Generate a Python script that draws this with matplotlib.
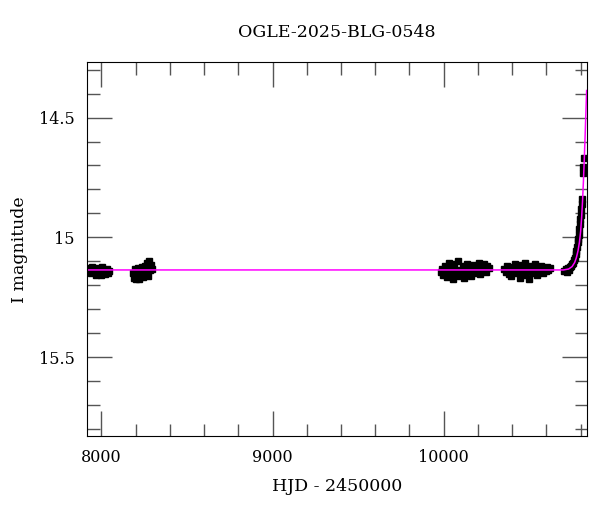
import numpy as np
import matplotlib
matplotlib.use("Agg")
from matplotlib import pyplot as plt
from matplotlib.ticker import MultipleLocator, FixedFormatter, FixedLocator

# photometry (HJD - 2450000, I mag)
t_season1 = [7922, 7928, 7933, 7938, 7944, 7950, 7955, 7960, 7966, 7972, 7977,
             7983, 7990, 7996, 8003, 8010, 8017, 8024, 8031, 8038, 8044]
m_season1 = [15.128, 15.142, 15.135, 15.150, 15.122, 15.138, 15.146, 15.131,
             15.155, 15.127, 15.140, 15.149, 15.133, 15.158, 15.125, 15.144,
             15.137, 15.152, 15.130, 15.147, 15.139]

t_season2 = [8186, 8191, 8196, 8201, 8206, 8211, 8216, 8221, 8226, 8231, 8236,
             8241, 8246, 8251, 8256, 8261, 8266, 8271, 8276, 8281, 8286, 8291, 8295]
m_season2 = [15.150, 15.168, 15.132, 15.172, 15.145, 15.160, 15.128, 15.175,
             15.140, 15.155, 15.122, 15.165, 15.135, 15.150, 15.118, 15.142,
             15.105, 15.160, 15.125, 15.100, 15.138, 15.115, 15.130]

t_season3 = [9982, 9990, 9998, 10006, 10014, 10022, 10030, 10038, 10046, 10054,
             10062, 10070, 10078, 10086, 10094, 10102, 10110, 10118, 10126, 10134,
             10142, 10150, 10158, 10166, 10174, 10182, 10190, 10198, 10206, 10214,
             10222, 10230, 10238, 10246, 10254, 10262]
m_season3 = [15.145, 15.130, 15.158, 15.118, 15.140, 15.165, 15.105, 15.150,
             15.128, 15.172, 15.112, 15.142, 15.160, 15.098, 15.135, 15.155,
             15.120, 15.168, 15.138, 15.110, 15.150, 15.125, 15.162, 15.132,
             15.115, 15.148, 15.128, 15.140, 15.108, 15.152, 15.122, 15.135,
             15.112, 15.145, 15.118, 15.128]

t_season4 = [10355, 10363, 10371, 10379, 10387, 10395, 10403, 10411, 10419, 10427,
             10435, 10443, 10451, 10459, 10467, 10475, 10483, 10491, 10499, 10507,
             10515, 10523, 10531, 10539, 10547, 10555, 10563, 10571, 10579, 10587,
             10595, 10603, 10611, 10619]
m_season4 = [15.130, 15.145, 15.118, 15.152, 15.135, 15.160, 15.125, 15.142,
             15.110, 15.150, 15.132, 15.168, 15.115, 15.140, 15.155, 15.108,
             15.145, 15.128, 15.175, 15.120, 15.138, 15.150, 15.112, 15.132,
             15.158, 15.125, 15.140, 15.118, 15.148, 15.130, 15.142, 15.122,
             15.136, 15.128]

t_rise = [10705, 10712, 10718, 10724, 10730, 10736, 10742, 10748, 10754, 10760,
          10765, 10770, 10775, 10779, 10783, 10786, 10789, 10792, 10795, 10798,
          10800, 10803, 10806, 10808, 10815, 10816, 10817]
m_rise = [15.140, 15.132, 15.145, 15.128, 15.135, 15.125, 15.118, 15.112,
          15.105, 15.095, 15.085, 15.070, 15.055, 15.040, 15.020, 15.005,
          14.990, 14.965, 14.945, 14.925, 14.905, 14.880, 14.860, 14.840,
          14.730, 14.705, 14.670]

# model curve
t_model = [7916, 10700, 10730, 10750, 10765, 10775, 10785, 10793, 10800,
           10806, 10811, 10816, 10821, 10826, 10831, 10835]
m_model = [15.136, 15.136, 15.132, 15.122, 15.105, 15.085, 15.055, 15.020,
           14.975, 14.915, 14.850, 14.770, 14.680, 14.580, 14.470, 14.387]

plt.rcParams['font.family'] = ['DejaVu Serif']

fig = plt.figure(figsize=(6, 5.12), dpi=100)
ax = fig.add_axes([0.145, 0.148, 0.833, 0.730])

t_all = t_season1 + t_season2 + t_season3 + t_season4 + t_rise
m_all = m_season1 + m_season2 + m_season3 + m_season4 + m_rise
ax.plot(t_all, m_all, ls='none', marker='s', ms=4, color='black', mec='black')
ax.plot(t_model, m_model, color='#ff00ff', lw=1.1)

ax.set_xlim(7916, 10836)
ax.set_ylim(15.83, 14.27)

ax.xaxis.set_major_locator(MultipleLocator(1000))
ax.xaxis.set_minor_locator(MultipleLocator(200))
ax.yaxis.set_major_locator(FixedLocator([14.5, 15.0, 15.5]))
ax.yaxis.set_major_formatter(FixedFormatter(['14.5', '15', '15.5']))
ax.yaxis.set_minor_locator(MultipleLocator(0.1))

ax.tick_params(which='both', direction='in', top=True, right=True,
               color='#555555', labelsize=11.5)
ax.tick_params(which='major', length=18, width=1, pad=9)
ax.tick_params(which='minor', length=9, width=1)

ax.set_xlabel('HJD - 2450000', fontsize=12.5, labelpad=9)
ax.set_ylabel('I magnitude', fontsize=12.5, labelpad=8)
ax.set_title('OGLE-2025-BLG-0548', fontsize=12.5, pad=18)

plt.savefig('out.png', dpi=100)
